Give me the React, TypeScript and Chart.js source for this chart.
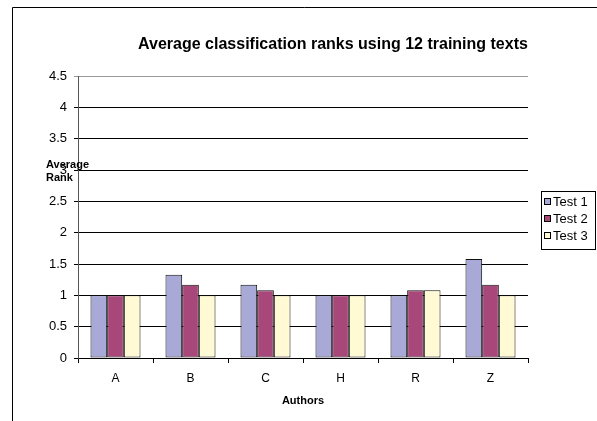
import React, { useEffect, useRef } from "react";
import { Chart, registerables } from "chart.js";

Chart.register(...registerables);

const categories = ["A", "B", "C", "H", "R", "Z"];
const test1 = [1, 1.33, 1.17, 1, 1, 1.58];
const test2 = [1, 1.17, 1.08, 1, 1.08, 1.17];
const test3 = [1, 1, 1, 1, 1.08, 1];
const seriesNames = ["Test 1", "Test 2", "Test 3"];
const seriesColors = ["#A9A9D7", "#A8487A", "#FFFAD4"];
const yMin = 0;
const yMax = 4.5;
const yStep = 0.5;
const chartTitle = "Average classification ranks using 12 training texts";
const xTitle = "Authors";
const yTitleLines = ["Average", "Rank"];

const FONT = "'Liberation Sans', Arial, sans-serif";

const decorations = {
  id: "decorations",
  afterDraw(chart: any) {
    const ctx = chart.ctx;
    const area = chart.chartArea;
    ctx.save();
    // outer frame
    ctx.strokeStyle = "#000";
    ctx.lineWidth = 1;
    ctx.beginPath();
    ctx.moveTo(12.5, chart.height);
    ctx.lineTo(12.5, 7.5);
    ctx.lineTo(chart.width, 7.5);
    ctx.stroke();

    // title
    ctx.fillStyle = "#000";
    ctx.font = `bold 16px ${FONT}`;
    ctx.textAlign = "center";
    ctx.textBaseline = "middle";
    ctx.fillText(chartTitle, 333, 45);

    // x title
    ctx.font = `bold 11px ${FONT}`;
    ctx.fillText(xTitle, (area.left + area.right) / 2, 401);

    // y title
    ctx.textAlign = "left";
    yTitleLines.forEach((l, i) => ctx.fillText(l, 46, 165 + i * 13));

    // legend
    const lx = 541.5, ly = 191.5, lw = 54, lh = 58;
    ctx.strokeStyle = "#000";
    ctx.strokeRect(lx, ly, lw, lh);
    ctx.font = `13px ${FONT}`;
    ctx.textBaseline = "middle";
    chart.data.datasets.forEach((ds: any, i: number) => {
      const cy = 202 + i * 17;
      ctx.fillStyle = ds.backgroundColor;
      ctx.fillRect(544.5, cy - 3.5, 6, 6);
      ctx.strokeStyle = "#000";
      ctx.strokeRect(544.5, cy - 3.5, 6, 6);
      ctx.fillStyle = "#000";
      ctx.fillText(ds.label, 553, cy + 0.5);
    });
    ctx.restore();
  },
};

export default function App() {
  const ref = useRef<HTMLCanvasElement>(null);
  useEffect(() => {
    if (!ref.current) return;
    const data = [test1, test2, test3];
    const chart = new Chart(ref.current, {
      type: "bar",
      data: {
        labels: categories,
        datasets: seriesNames.map((name, i) => ({
          label: name,
          data: data[i],
          backgroundColor: seriesColors[i],
          borderColor: "#111",
          borderWidth: 1,
          borderSkipped: false,
          categoryPercentage: 0.667,
          barPercentage: 1,
        })),
      },
      options: {
        responsive: false,
        animation: false,
        devicePixelRatio: 1,
        layout: { padding: { left: 0, top: 76, right: 69, bottom: 0 } },
        plugins: {
          legend: { display: false },
          title: { display: false },
          tooltip: { enabled: false },
        },
        scales: {
          x: {
            afterFit: (s: any) => {
              s.height = 63;
            },
            grid: {
              display: true,
              drawOnChartArea: false,
              drawTicks: true,
              tickLength: 5,
              color: "#000",
              offset: true,
            },
            border: { color: "#000" },
            ticks: {
              color: "#000",
              padding: 8,
              font: { family: FONT, size: 12 },
            },
          },
          y: {
            min: yMin,
            max: yMax,
            afterFit: (s: any) => {
              s.width = 78;
            },
            grid: {
              color: (c: any) => (c.tick && c.tick.value === yMax ? "#999" : "#000"),
              tickLength: 4,
            },
            border: { color: "#555" },
            ticks: {
              stepSize: yStep,
              color: "#000",
              padding: 7,
              font: { family: FONT, size: 13 },
              callback: (v: any) => String(Number(v)),
            },
          },
        },
      },
      plugins: [decorations],
    });
    return () => chart.destroy();
  }, []);
  return (
    <div style={{ position: "fixed", left: 0, top: 0, width: 597, height: 421, background: "#fff" }}>
      <canvas ref={ref} width={597} height={421} style={{ width: 597, height: 421, display: "block" }} />
    </div>
  );
}
